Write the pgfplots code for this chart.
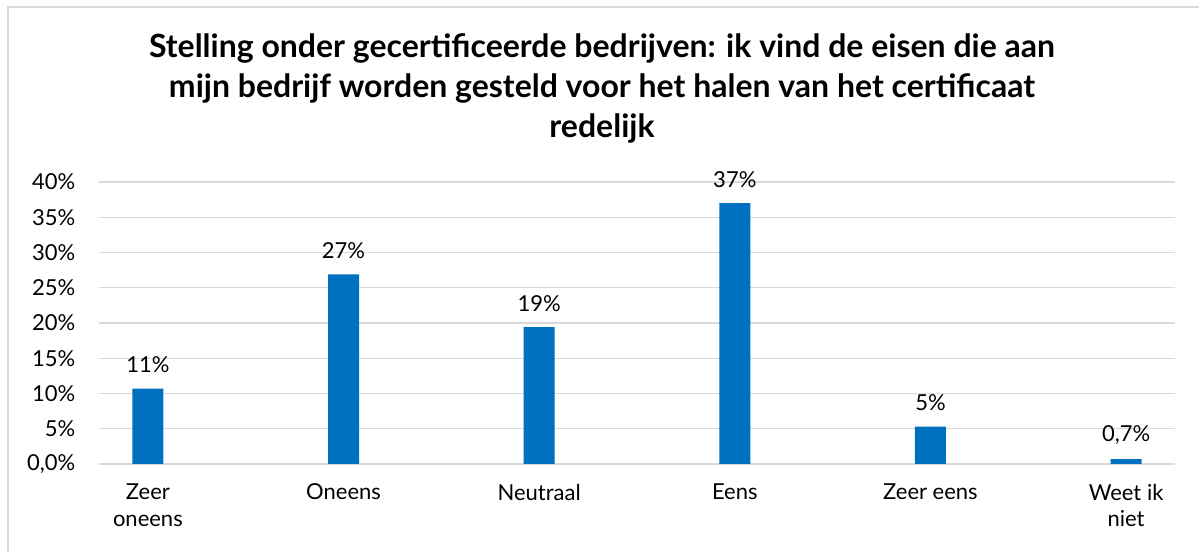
\documentclass[border=0pt]{standalone}
\usepackage{pgfplots}
\pgfplotsset{compat=1.18}
\usepackage{fontspec}
\setmainfont{Lato}
\definecolor{barblue}{RGB}{0,112,192}
\definecolor{gridgray}{RGB}{217,217,217}
\begin{document}
\begin{tikzpicture}
\useasboundingbox (0,0) rectangle (899.25pt,414pt);
\draw[gridgray, line width=1.2pt] (6pt,-20pt) -- (6pt,408.75pt) -- (930pt,408.75pt);
\node[font=\fontsize{24}{30}\selectfont\bfseries, align=center] at (451.5pt,348pt)
  {Stelling onder gecertificeerde bedrijven: ik vind de eisen die aan\\mijn bedrijf worden gesteld voor het halen van het certificaat\\redelijk};
\begin{axis}[
  at={(74.25pt,66pt)}, anchor=south west,
  scale only axis, width=807pt, height=211.5pt,
  xmin=-0.25, xmax=5.25, ymin=0, ymax=40,
  clip=false,
  axis line style={draw=none},
  major tick length=0,
  ymajorgrids, major grid style={gridgray, line width=1pt},
  ytick={0,5,10,15,20,25,30,35,40},
  yticklabels={{0,0\%},5\%,10\%,15\%,20\%,25\%,30\%,35\%,40\%},
  yticklabel style={font=\fontsize{16.5}{19}\selectfont, xshift=-14.25pt},
  xtick={0,1,2,3,4,5},
  xticklabels={{Zeer\\oneens},Oneens,Neutraal,Eens,{Zeer eens},{Weet ik\\niet}},
  xticklabel style={font=\fontsize{16.5}{20}\selectfont, align=center, anchor=north, yshift=-11.5pt},
]
\addplot[ybar, bar width=23.25pt, fill=barblue, draw=none,
  nodes near coords, point meta=explicit symbolic,
  every node near coord/.append style={font=\fontsize{16.5}{19}\selectfont, anchor=center, yshift=18pt, text=black}]
  coordinates {(0,10.7) [11\%] (1,26.9) [27\%] (2,19.4) [19\%] (3,37.0) [37\%] (4,5.3) [5\%] (5,0.7) [{0,7\%}]};
\end{axis}
\end{tikzpicture}
\end{document}
